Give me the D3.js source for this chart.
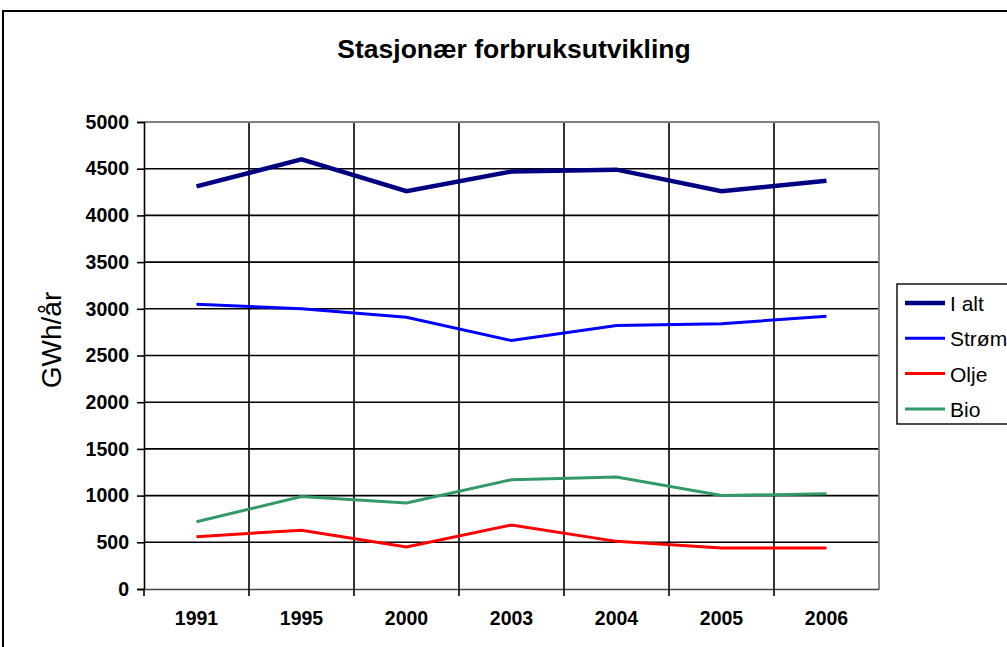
<!DOCTYPE html>
<html><head><meta charset="utf-8">
<script src="https://cdn.jsdelivr.net/npm/d3@7"></script>
<style>body{margin:0;background:#fff}svg{display:block}text{font-family:"Liberation Sans",Arial,sans-serif}</style>
</head><body><svg id="c" width="1007" height="647"></svg>
<script>
const years = ["1991","1995","2000","2003","2004","2005","2006"];
const iAlt  = [4310,4600,4260,4470,4490,4260,4370];
const strom = [3050,3000,2910,2660,2820,2840,2920];
const olje  = [560,630,450,685,510,440,440];
const bio   = [720,990,920,1170,1200,1000,1020];
const yTicks = [0,500,1000,1500,2000,2500,3000,3500,4000,4500,5000];
const seriesNames = ["I alt","Strøm","Olje","Bio"];
const seriesData = [iAlt, strom, olje, bio];
const seriesColors = ["#000080","#0000FF","#FF0000","#339966"];
const seriesWidths = [4.5,3,3,3];

const svg = d3.select("#c");
const L=144, R=879, T=122, B=589;
const x = d3.scaleBand().domain(years).range([L,R]);
const y = d3.scaleLinear().domain([0,5000]).range([B,T]);

// outer border
svg.append("rect").attr("x",3).attr("y",11).attr("width",1020).attr("height",660)
  .attr("fill","none").attr("stroke","#000").attr("stroke-width",2);

// title
svg.append("text").attr("x",514).attr("y",58).attr("text-anchor","middle")
  .attr("font-weight","bold").attr("font-size",26.5).text("Stasjonær forbruksutvikling");

// horizontal grid
svg.append("g").selectAll("line").data(yTicks.filter(d=>d>0&&d<5000)).join("line")
  .attr("x1",L).attr("x2",R).attr("y1",d=>y(d)).attr("y2",d=>y(d))
  .attr("stroke","#000").attr("stroke-width",1.6);
// vertical grid at band boundaries
const bounds = years.map(d=>x(d)).slice(1);
svg.append("g").selectAll("line").data(bounds).join("line")
  .attr("x1",d=>d).attr("x2",d=>d).attr("y1",T).attr("y2",B)
  .attr("stroke","#000").attr("stroke-width",1.6);

// plot frame top/right gray
svg.append("line").attr("x1",L).attr("x2",R).attr("y1",T).attr("y2",T).attr("stroke","#808080").attr("stroke-width",1.8);
svg.append("line").attr("x1",R).attr("x2",R).attr("y1",T).attr("y2",B).attr("stroke","#808080").attr("stroke-width",1.8);

// y axis
const yAxis = d3.axisLeft(y).tickValues(yTicks).tickFormat(d3.format("d")).tickSize(7).tickPadding(8);
const gy = svg.append("g").attr("transform",`translate(${L},0)`).call(yAxis);
gy.select(".domain").attr("stroke","#000").attr("stroke-width",1.6);
gy.selectAll(".tick line").attr("stroke","#000").attr("stroke-width",1.6);
gy.selectAll(".tick text").attr("font-size",19.5).attr("font-weight","bold").attr("fill","#000")
  .attr("font-family","Liberation Sans, Arial, sans-serif");

// x axis
const xAxis = d3.axisBottom(x).tickSize(0).tickPadding(22);
const gx = svg.append("g").attr("transform",`translate(0,${B})`).call(xAxis);
gx.select(".domain").attr("stroke","#444").attr("stroke-width",1.6);
gx.selectAll(".tick text").attr("font-size",19.5).attr("font-weight","bold").attr("fill","#000")
  .attr("font-family","Liberation Sans, Arial, sans-serif");
gx.append("g").selectAll("line").data([L].concat(bounds)).join("line")
  .attr("x1",d=>d).attr("x2",d=>d).attr("y1",0).attr("y2",7)
  .attr("stroke","#000").attr("stroke-width",1.6);

// y title
svg.append("text").attr("transform","translate(61,340) rotate(-90)")
  .attr("text-anchor","middle").attr("font-size",28).text("GWh/år");

// lines
const line = d3.line().x((d,i)=>x(years[i])+x.bandwidth()/2).y(d=>y(d));
seriesData.forEach((s,k)=>{
  svg.append("path").datum(s).attr("d",line).attr("fill","none")
    .attr("stroke",seriesColors[k]).attr("stroke-width",seriesWidths[k]).attr("stroke-linejoin","miter");
});

// legend
svg.append("rect").attr("x",897).attr("y",284).attr("width",140).attr("height",140)
  .attr("fill","#fff").attr("stroke","#000").attr("stroke-width",1.4);
const lg = svg.append("g").selectAll("g").data(seriesNames).join("g")
  .attr("transform",(d,i)=>`translate(905,${303+i*35.3})`);
lg.append("line").attr("x1",0).attr("x2",40).attr("y1",0).attr("y2",0)
  .attr("stroke",(d,i)=>seriesColors[i]).attr("stroke-width",(d,i)=>seriesWidths[i]);
lg.append("text").attr("x",45).attr("y",8).attr("font-size",21).text(d=>d);
</script></body></html>
